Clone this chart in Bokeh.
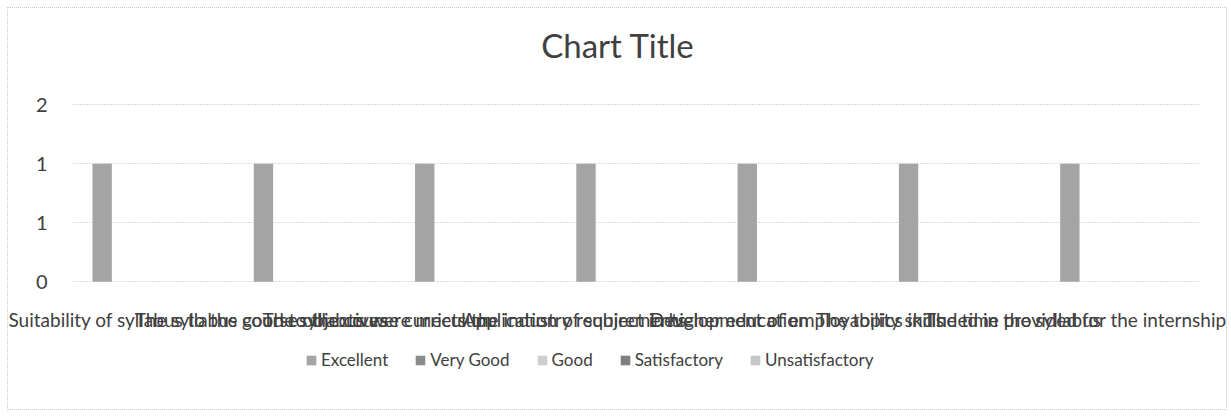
from bokeh.plotting import figure
from bokeh.models import (FactorRange, ColumnDataSource, FixedTicker, Legend, LegendItem,
                          Range1d, Label)
from bokeh.layouts import column
from bokeh.transform import dodge
from bokeh.embed import file_html
from bokeh.resources import INLINE

categories = [
    "Suitability of syllabus to the course objectives",
    "The syllabus good to the course curriculum",
    "The syllabus were meets the industry requirements",
    "Application of subject in higher education",
    "Development of employability skills",
    "The topics included in the syllabus",
    "The time provided for the internship",
]
series = ["Excellent", "Very Good", "Good", "Satisfactory", "Unsatisfactory"]
excellent = [1, 1, 1, 1, 1, 1, 1]
very_good = [0, 0, 0, 0, 0, 0, 0]
good = [0, 0, 0, 0, 0, 0, 0]
satisfactory = [0, 0, 0, 0, 0, 0, 0]
unsatisfactory = [0, 0, 0, 0, 0, 0, 0]
y_ticks = [0, 0.5, 1, 1.5]
y_tick_labels = ["0", "1", "1", "2"]
title_text = "Chart Title"

colors = ["#a4a4a4", "#8c8c8c", "#cfcfcf", "#7f7f7f", "#c6c6c6"]
values = [excellent, very_good, good, satisfactory, unsatisfactory]

src = ColumnDataSource(dict(cats=categories, **{s: v for s, v in zip(series, values)}))

FONT = "Lato"
TEXT = "#404040"
FRAME_W = 1129
FRAME_H = 262
PX_PER_UNIT = 118.0
Y_LO = -0.006
Y_HI = Y_LO + FRAME_H / PX_PER_UNIT
offsets = [-0.31, -0.155, 0.0, 0.155, 0.31]

p = figure(x_range=FactorRange(*categories), y_range=Range1d(Y_LO, Y_HI),
           frame_width=FRAME_W, frame_height=FRAME_H, output_backend="svg",
           toolbar_location=None,
           min_border_left=63, min_border_right=26, min_border_top=12, min_border_bottom=53)

for s, off, c in zip(series, offsets, colors):
    p.vbar(x=dodge("cats", off, range=p.x_range), top=s, width=0.12, source=src,
           fill_color=c, line_color=None)

# chart title (centered over the whole chart area, slightly left of plot centre)
cat_px = FRAME_W / len(categories)
p.add_layout(Label(x=len(categories) / 2 - 18 / cat_px, y=(282 - 45) / PX_PER_UNIT,
                   text=title_text, text_align="center", text_baseline="middle",
                   text_font=FONT, text_font_size="33px", text_color=TEXT))

p.outline_line_color = None
p.xgrid.grid_line_color = None
p.ygrid.grid_line_color = "#b4b4b4"
p.ygrid.grid_line_dash = "1 2"
p.yaxis.ticker = FixedTicker(ticks=y_ticks)
p.ygrid.ticker = FixedTicker(ticks=y_ticks)
p.yaxis.major_label_overrides = {t: l for t, l in zip(y_ticks, y_tick_labels)}
for ax in (p.xaxis, p.yaxis):
    ax.axis_line_color = None
    ax.major_tick_line_color = None
    ax.minor_tick_line_color = None
    ax.major_label_text_font = FONT
    ax.major_label_text_color = TEXT
p.yaxis.major_label_text_font_size = "20px"
p.yaxis.major_label_standoff = 18
p.xaxis.major_label_text_font_size = "19px"
p.xaxis.major_label_standoff = 19

# legend strip below the chart (same series, drawn out of view; only the legend shows)
p2 = figure(width=63 + FRAME_W + 26, height=60, x_range=p.x_range, y_range=Range1d(5, 6),
            output_backend="svg", toolbar_location=None, min_border=0)
p2.axis.visible = False
p2.grid.grid_line_color = None
p2.outline_line_color = None
items = []
for s, off, c in zip(series, offsets, colors):
    r = p2.vbar(x=dodge("cats", off, range=p2.x_range), top=s, width=0.12, source=src,
                fill_color=c, line_color=None)
    items.append(LegendItem(label=s, renderers=[r]))
legend = Legend(items=items, orientation="horizontal", location=(234, 25),
                label_text_font=FONT, label_text_font_size="17px", label_text_color=TEXT,
                glyph_width=12, glyph_height=12, spacing=26, label_standoff=4,
                border_line_color=None, background_fill_alpha=0, padding=10, margin=0)
p2.add_layout(legend)

layout = column(p, p2, spacing=0,
                styles={"border": "1px dotted #c8c8c8", "margin-left": "7px",
                        "margin-top": "7px", "padding-bottom": "14px"})

open("out.html", "w").write(file_html(layout, INLINE))
